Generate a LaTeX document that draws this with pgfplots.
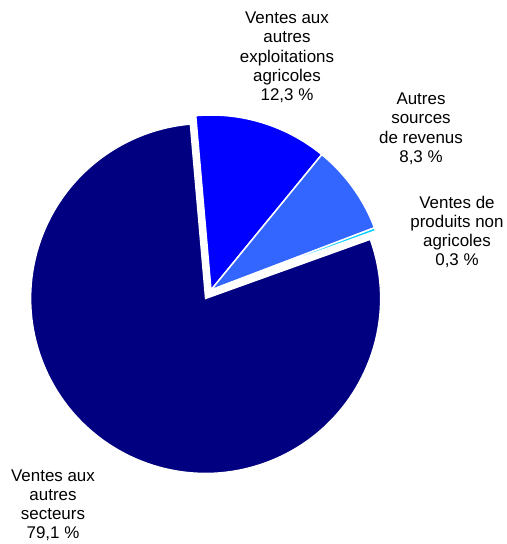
\documentclass[border=0pt]{standalone}
\usepackage{pgfplots}
\usepackage{pgfplotstable}
\pgfplotsset{compat=1.18}
\usepackage{fontspec}
\setmainfont{Liberation Sans}
\definecolor{cnavy}{RGB}{0,0,128}
\definecolor{cblue}{RGB}{0,0,255}
\definecolor{clight}{RGB}{51,102,255}
\definecolor{ccyan}{RGB}{0,204,255}
\tikzset{lbl/.style={align=center, anchor=north, inner sep=0pt,
    font=\fontsize{17}{19.2}\selectfont}}

% share (%), colour, explode distance
\pgfplotstableread{
pct  col    ex
12.3 cblue  0
8.3  clight 0
0.3  ccyan  0
79.1 cnavy  10
}\piedata

\begin{document}
\begin{tikzpicture}
\path[use as bounding box] (0,0) rectangle (507bp,544bp);
\begin{axis}[
    x=1bp, y=1bp,
    xmin=0, xmax=507, ymin=0, ymax=544,
    hide axis, clip=false, scale only axis,
    at={(0,0)}, anchor=south west,
]
\pgfplotsextra{
  \def\cx{211}\def\cy{254}\def\R{175}
  \gdef\angstart{95}
  \pgfplotstablegetrowsof{\piedata}
  \pgfmathtruncatemacro\nrows{\pgfplotsretval-1}
  \foreach \i in {0,...,\nrows}{
    \pgfplotstablegetelem{\i}{pct}\of\piedata \let\pct\pgfplotsretval
    \pgfplotstablegetelem{\i}{col}\of\piedata \let\col\pgfplotsretval
    \pgfplotstablegetelem{\i}{ex}\of\piedata \let\ex\pgfplotsretval
    \pgfmathsetmacro\angend{\angstart-3.6*\pct}
    \pgfmathsetmacro\mid{(\angstart+\angend)/2}
    \pgfmathsetmacro\ox{\cx+\ex*cos(\mid)}
    \pgfmathsetmacro\oy{\cy+\ex*sin(\mid)}
    \filldraw[fill=\col, draw=white, line width=1.5bp, line join=miter]
      (axis cs:\ox,\oy) -- ++(\angstart:\R bp)
      arc[start angle=\angstart, end angle=\angend, radius=\R bp] -- cycle;
    \xdef\angstart{\angend}
  }
  \node[lbl] at (axis cs:287,532) {Ventes aux\\autres\\exploitations\\agricoles\\12,3~\%};
  \node[lbl] at (axis cs:421,451) {Autres\\sources\\de revenus\\8,3~\%};
  \node[lbl] at (axis cs:457,348) {Ventes de\\produits non\\agricoles\\0,3~\%};
  \node[lbl] at (axis cs:53,74.5) {Ventes aux\\autres\\secteurs\\79,1~\%};
}
\end{axis}
\end{tikzpicture}
\end{document}
